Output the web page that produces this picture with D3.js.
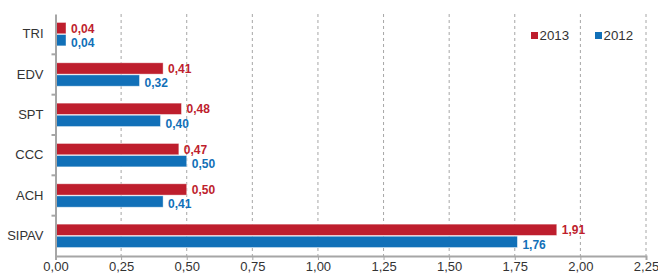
<!DOCTYPE html>
<html>
<head>
<meta charset="utf-8">
<script src="https://cdn.jsdelivr.net/npm/d3@7"></script>
<style>
  body { margin: 0; background: #fff; }
  text { font-family: "Liberation Sans", Arial, sans-serif; }
</style>
</head>
<body>
<script>
// dati
const categories = ["TRI", "EDV", "SPT", "CCC", "ACH", "SIPAV"];
const values2013 = [0.04, 0.41, 0.48, 0.47, 0.50, 1.91];
const values2012 = [0.04, 0.32, 0.40, 0.50, 0.41, 1.76];
const xTicks = [0, 0.25, 0.5, 0.75, 1, 1.25, 1.5, 1.75, 2, 2.25];
const seriesNames = ["2013", "2012"];
const colors = ["#be1e2d", "#1170b8"];

const width = 658, height = 276;
const margin = { top: 14, right: 12, bottom: 20, left: 55.5 };

const svg = d3.select("body").append("svg")
  .attr("width", width)
  .attr("height", height);

const x = d3.scaleLinear()
  .domain([0, 2.25])
  .range([margin.left, width - margin.right]);

const y = d3.scaleBand()
  .domain(categories)
  .range([margin.top, height - margin.bottom]);

const barH = 11.3;
const fmt = (v) => d3.format(".2f")(v).replace(".", ",");

// griglia
svg.append("g")
  .selectAll("line")
  .data(xTicks.slice(1))
  .join("line")
  .attr("x1", (d) => x(d))
  .attr("x2", (d) => x(d))
  .attr("y1", margin.top)
  .attr("y2", height - margin.bottom)
  .attr("stroke", "#a6a6a6")
  .attr("stroke-dasharray", "3,3");

// barre
const groups = svg.append("g")
  .selectAll("g")
  .data(categories)
  .join("g");

[values2013, values2012].forEach((vals, s) => {
  groups.append("rect")
    .attr("x", x(0))
    .attr("y", (d) => y(d) + y.bandwidth() / 2 - barH - 0.4 + s * (barH + 0.8))
    .attr("width", (d, i) => x(vals[i]) - x(0))
    .attr("height", barH)
    .attr("fill", colors[s])
    .attr("stroke", "#fff")
    .attr("stroke-opacity", 0.5)
    .attr("stroke-width", 0.8);

  groups.append("text")
    .attr("x", (d, i) => x(vals[i]) + 5)
    .attr("y", (d) => y(d) + y.bandwidth() / 2 - barH / 2 + s * (barH + 3))
    .attr("dy", "0.35em")
    .attr("fill", colors[s])
    .attr("font-size", 12)
    .attr("font-weight", "bold")
    .text((d, i) => fmt(vals[i]));
});

// asse x
const xAxis = svg.append("g")
  .attr("transform", `translate(0,${height - margin.bottom})`)
  .call(d3.axisBottom(x).tickValues(xTicks).tickSize(4).tickFormat(fmt));
xAxis.select(".domain").attr("stroke", "#a6a6a6").attr("stroke-width", 2);
xAxis.selectAll(".tick line").attr("stroke", "#a6a6a6");
xAxis.selectAll(".tick text")
  .attr("fill", "#333")
  .attr("font-size", 13)
  .attr("font-family", "Liberation Sans, Arial, sans-serif")
  .attr("y", 6);

// asse y
const yAxis = svg.append("g")
  .attr("transform", `translate(${margin.left},0)`)
  .call(d3.axisLeft(y).tickSize(0).tickPadding(12));
yAxis.select(".domain").attr("stroke", "#a6a6a6").attr("stroke-width", 2);
yAxis.selectAll(".tick text")
  .attr("fill", "#333")
  .attr("font-size", 13)
  .attr("font-family", "Liberation Sans, Arial, sans-serif");

// tacche tra categorie
svg.append("g")
  .selectAll("line")
  .data(categories.slice(1))
  .join("line")
  .attr("x1", margin.left - 4)
  .attr("x2", margin.left)
  .attr("y1", (d) => y(d))
  .attr("y2", (d) => y(d))
  .attr("stroke", "#a6a6a6")
  .attr("stroke-width", 2);

// legenda
const legend = svg.append("g")
  .selectAll("g")
  .data(seriesNames)
  .join("g")
  .attr("transform", (d, i) => `translate(${531 + i * 64},32)`);
legend.append("rect")
  .attr("width", 7)
  .attr("height", 7)
  .attr("fill", (d, i) => colors[i]);
legend.append("text")
  .attr("x", 8.5)
  .attr("y", 7.5)
  .attr("fill", "#333")
  .attr("font-size", 13.3)
  .text((d) => d);
</script>
</body>
</html>
